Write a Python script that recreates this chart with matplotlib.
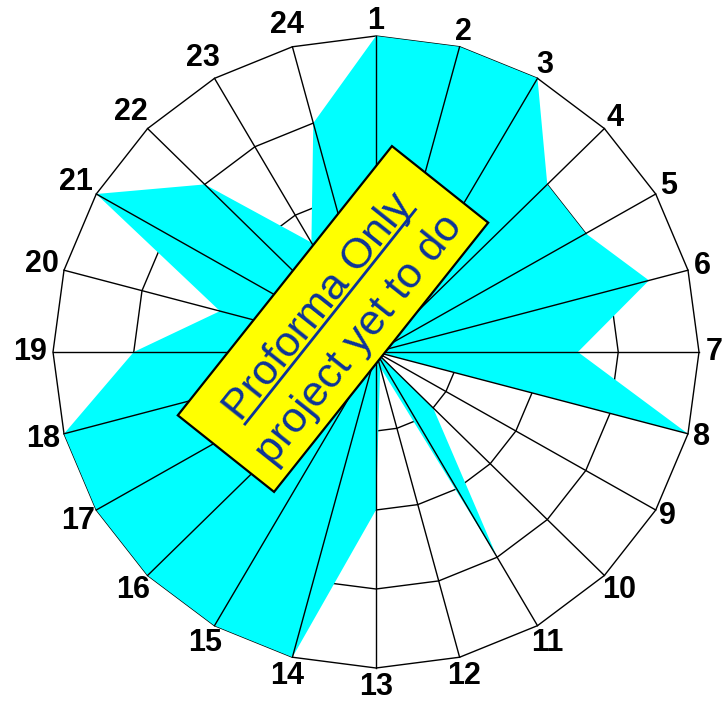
import numpy as np
import matplotlib
matplotlib.use('Agg')
import matplotlib.pyplot as plt
from matplotlib.patches import Polygon, Rectangle
from matplotlib.lines import Line2D
from matplotlib.transforms import Affine2D

plt.rcParams['font.family'] = ['Liberation Sans', 'DejaVu Sans']

'~~~~~~~~~~ DATA ~~~~~~~~~~'
spokes = [str(i) for i in range(1, 25)]
values = [1.0, 1.0, 1.0, 0.75, 0.75, 0.875, 0.625, 1.0, 0.0, 0.25, 0.75, 0.05,
          0.5, 1.0, 1.0, 1.0, 1.0, 1.0, 0.75, 0.5, 1.0, 0.75, 0.4, 0.75]
rings = [0.25, 0.5, 0.75, 1.0]

note_top = 'Proforma Only'
note_bottom = 'project yet to do'

'~~~~~~~~~~ FIGURE ~~~~~~~~~~'
fig = plt.figure(figsize=(7.23, 7.03), dpi=100)
ax = fig.add_axes([0, 0, 1, 1])
ax.set_xlim(-376 / 323, 347 / 323)
ax.set_ylim(-351 / 316, 352 / 316)
ax.axis('off')

n = len(spokes)
theta = 2 * np.pi * np.arange(n) / n
ux = np.sin(theta)
uy = np.cos(theta)

# rings sit under the fill
for r in rings:
    ax.add_patch(Polygon(np.column_stack([r * ux, r * uy]), closed=True,
                         fill=False, edgecolor='black', lw=1.0, zorder=1))

v = np.array(values)
ax.add_patch(Polygon(np.column_stack([v * ux, v * uy]), closed=True,
                     facecolor='#00ffff', edgecolor='none', zorder=2))

# spokes drawn over the fill
for i in range(n):
    ax.plot([0, ux[i]], [0, uy[i]], color='black', lw=1.0, zorder=3)

for i, lab in enumerate(spokes):
    off = 7 + 8 * len(lab) - 4 * max(0, -uy[i])
    ax.annotate(lab, xy=(ux[i], uy[i]), xytext=(off * ux[i], off * uy[i]),
                textcoords='offset pixels', ha='center', va='center',
                fontsize=22, fontweight='bold', color='black', zorder=4)

'~~~~~~~~~~ NOTE BOX ~~~~~~~~~~'
ang = 51.5
tr = Affine2D().rotate_deg(ang).translate(333, 384).scale(1 / fig.dpi) + fig.dpi_scale_trans

ax.add_patch(Rectangle((-172, -61.5), 344, 123, transform=tr, facecolor='#ffff00',
                       edgecolor='black', lw=1.6, zorder=5, clip_on=False))
blue = '#0d3399'
ax.text(0, 8, note_top, transform=tr, rotation=ang, rotation_mode='anchor',
        ha='center', va='baseline', fontsize=31, color=blue, zorder=6)
ax.add_line(Line2D([-137, 137], [3.5, 3.5], transform=tr, color=blue, lw=2,
                   zorder=6, clip_on=False))
ax.text(0, -45, note_bottom, transform=tr, rotation=ang, rotation_mode='anchor',
        ha='center', va='baseline', fontsize=31, color=blue, zorder=6)

fig.savefig('out.png', dpi=100)
